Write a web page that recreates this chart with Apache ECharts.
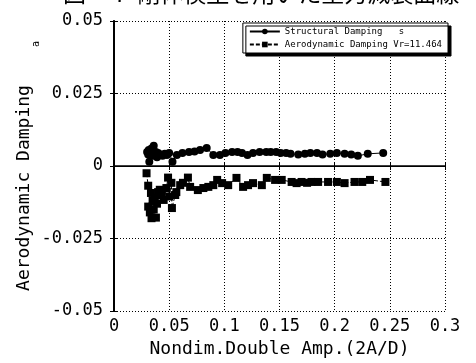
<!DOCTYPE html>
<html>
<head>
<meta charset="utf-8">
<script src="https://cdn.jsdelivr.net/npm/echarts@6/dist/echarts.min.js"></script>
<style>
  html, body { margin: 0; padding: 0; background: #fff; }
  #chart { width: 476px; height: 363px; }
</style>
</head>
<body>
<div id="chart"></div>
<script>
// 構造減衰（丸印）
const structX = [0.030, 0.031, 0.0315, 0.032, 0.033, 0.034, 0.035, 0.036, 0.037, 0.038, 0.039, 0.040, 0.042, 0.044,
  0.046, 0.048, 0.050, 0.053, 0.057, 0.062, 0.068, 0.073, 0.078, 0.084, 0.090, 0.096, 0.101, 0.107, 0.112, 0.116,
  0.121, 0.126, 0.132, 0.138, 0.142, 0.147, 0.151, 0.156, 0.160, 0.167, 0.173, 0.178, 0.184, 0.189, 0.196, 0.202,
  0.209, 0.215, 0.221, 0.230, 0.244]
const structY = [0.0048, 0.0040, 0.0055, 0.0015, 0.0045, 0.0060, 0.0035, 0.0070, 0.0040, 0.0048, 0.0030, 0.0045, 0.0040, 0.0035,
  0.0042, 0.0038, 0.0045, 0.0015, 0.0038, 0.0045, 0.0048, 0.0050, 0.0055, 0.0062, 0.0038, 0.0038, 0.0045, 0.0048, 0.0048, 0.0045,
  0.0038, 0.0045, 0.0048, 0.0048, 0.0048, 0.0048, 0.0045, 0.0045, 0.0042, 0.0040, 0.0042, 0.0045, 0.0045, 0.0040, 0.0042, 0.0045,
  0.0042, 0.0040, 0.0035, 0.0042, 0.0045]

// 空力減衰（四角印）
const aeroX = [0.0295, 0.031, 0.0335, 0.031, 0.035, 0.0325, 0.037, 0.034, 0.038, 0.036, 0.040, 0.039, 0.043, 0.0415,
  0.045, 0.0475, 0.049, 0.050, 0.052, 0.0525, 0.0555, 0.0565, 0.060, 0.0625, 0.067, 0.069, 0.076, 0.081, 0.0855,
  0.090, 0.0935, 0.098, 0.1035, 0.111, 0.117, 0.1215, 0.126, 0.134, 0.1385, 0.146, 0.152, 0.161, 0.1655, 0.170,
  0.175, 0.179, 0.185, 0.194, 0.202, 0.209, 0.218, 0.225, 0.232, 0.246]
const aeroY = [-0.0025, -0.0068, -0.0093, -0.0140, -0.0120, -0.0160, -0.0110, -0.0180, -0.0178, -0.0150, -0.0090, -0.0130, -0.0100, -0.0082,
  -0.0117, -0.0076, -0.0040, -0.0105, -0.0058, -0.0145, -0.0100, -0.0090, -0.0066, -0.0058, -0.0040, -0.0072, -0.0083, -0.0076, -0.0072,
  -0.0066, -0.0048, -0.0059, -0.0066, -0.0041, -0.0072, -0.0066, -0.0059, -0.0066, -0.0041, -0.0048, -0.0048, -0.0055, -0.0059, -0.0055,
  -0.0058, -0.0055, -0.0055, -0.0055, -0.0055, -0.0059, -0.0055, -0.0055, -0.0048, -0.0055]

const seriesNames = ['Structural Damping   s', 'Aerodynamic Damping Vr=11.464']
const titleText = '図－７ 剛体模型を用いた空力減衰曲線'

const mono = 'DejaVu Sans Mono'
const pair = (xs, ys) => xs.map((x, i) => [x, ys[i]])

const chart = echarts.init(document.getElementById('chart'))

// 軸の共通設定
const frameAxis = {
  axisLine: { show: true, lineStyle: { color: '#000', width: 1.5 } },
  axisTick: { show: true, inside: true, length: 4, lineStyle: { color: '#000' } },
  splitLine: { show: false },
}
const dotted = { show: true, lineStyle: { color: '#000', type: [1, 2], width: 1 } }

chart.setOption({
  animation: false,
  backgroundColor: '#fff',
  grid: { left: 114, right: 31, top: 21, bottom: 52 },
  graphic: [
    {
      // 上端で切れたタイトル
      type: 'text', x: 63, y: 5,
      style: { text: titleText, font: '23px "Noto Sans CJK JP"', fill: '#000', verticalAlign: 'bottom' },
    },
    {
      type: 'text', x: 24, y: 188, rotation: Math.PI / 2,
      style: { text: 'Aerodynamic Damping', font: '18px "' + mono + '"', fill: '#000', align: 'center', verticalAlign: 'middle' },
    },
    {
      type: 'text', x: 36, y: 44, rotation: Math.PI / 2,
      style: { text: 'a', font: '10px "' + mono + '"', fill: '#000', align: 'center', verticalAlign: 'middle' },
    },
  ],
  legend: {
    data: seriesNames,
    orient: 'vertical',
    right: 28,
    top: 23,
    itemWidth: 30,
    itemHeight: 7,
    itemGap: 4,
    padding: [4, 6, 4, 6],
    backgroundColor: '#fff',
    borderColor: '#000',
    borderWidth: 1,
    borderRadius: 0,
    shadowColor: '#000',
    shadowOffsetX: 3,
    shadowOffsetY: 3,
    shadowBlur: 0,
    textStyle: { fontFamily: mono, fontSize: 9, color: '#000' },
  },
  xAxis: [
    {
      type: 'value', min: 0, max: 0.3, interval: 0.05,
      name: 'Nondim.Double Amp.(2A/D)', nameLocation: 'middle', nameGap: 27,
      nameTextStyle: { fontFamily: mono, fontSize: 18, color: '#000' },
      ...frameAxis,
      axisLabel: { fontFamily: mono, fontSize: 17, color: '#000', margin: 7 },
      splitLine: dotted,
    },
    {
      type: 'value', position: 'top', min: 0, max: 0.3, interval: 0.05,
      ...frameAxis,
      axisLine: { show: true, lineStyle: { color: '#000', width: 1 } },
      axisLabel: { show: false },
    },
  ],
  yAxis: [
    {
      type: 'value', min: -0.05, max: 0.05, interval: 0.025,
      ...frameAxis,
      axisLine: { show: true, lineStyle: { color: '#000', width: 2 } },
      axisLabel: { fontFamily: mono, fontSize: 17, color: '#000', margin: 11 },
      splitLine: dotted,
    },
    {
      type: 'value', position: 'right', min: -0.05, max: 0.05, interval: 0.025,
      ...frameAxis, axisLabel: { show: false },
    },
  ],
  series: [
    {
      name: seriesNames[0],
      type: 'line',
      data: pair(structX, structY),
      symbol: 'circle',
      symbolSize: 8,
      showAllSymbol: true,
      itemStyle: { color: '#000' },
      lineStyle: { color: '#000', width: 1 },
    },
    {
      name: seriesNames[1],
      type: 'line',
      data: pair(aeroX, aeroY),
      symbol: 'rect',
      symbolSize: 8,
      showAllSymbol: true,
      itemStyle: { color: '#000' },
      lineStyle: { color: '#000', width: 1, type: [4, 2] },
    },
  ],
})
</script>
</body>
</html>
